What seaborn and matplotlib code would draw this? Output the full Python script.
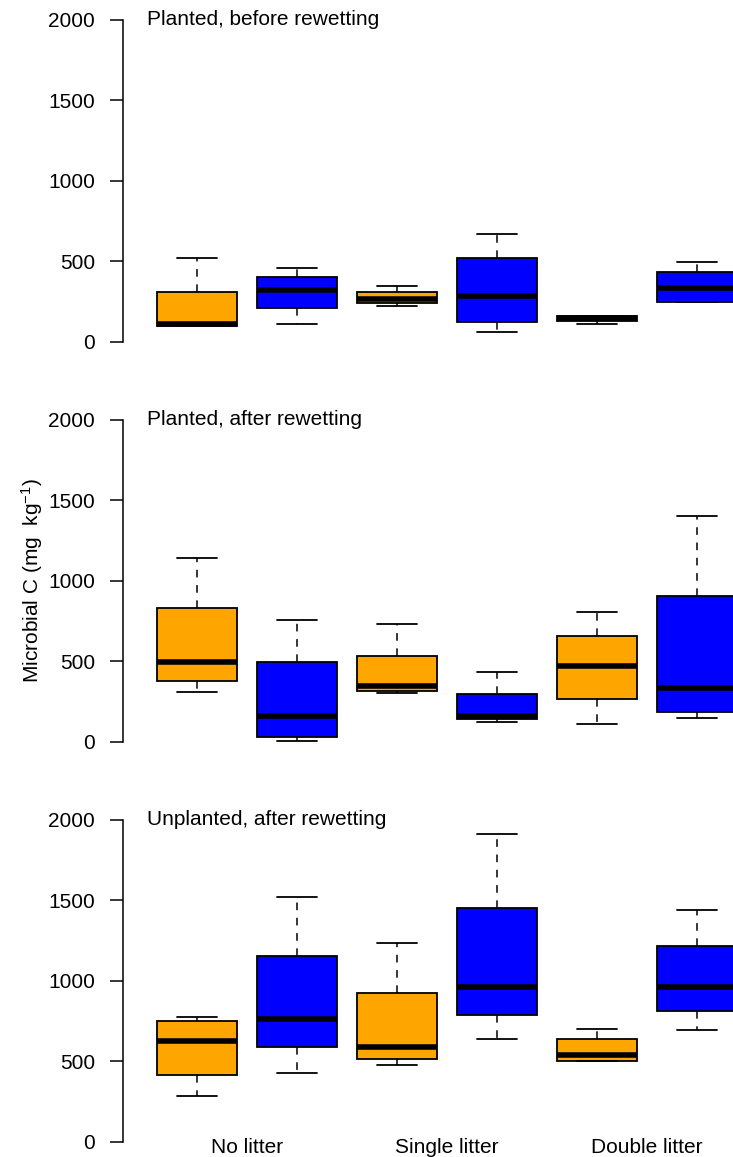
import matplotlib
matplotlib.use("Agg")
import matplotlib.pyplot as plt
import seaborn as sns
import pandas as pd

# ---- data (five-number summaries: min, q1, median, q3, max) ----
litter = ["No litter", "Single litter", "Double litter"]
groups = ["A", "B"]          # left (orange) and right (blue) box within each litter level
panel_titles = ["Planted, before rewetting",
                "Planted, after rewetting",
                "Unplanted, after rewetting"]

planted_before = [
    [98, 98, 112, 307, 522],     # No litter, A
    [110, 208, 321, 400, 460],   # No litter, B
    [220, 242, 265, 311, 346],   # Single litter, A
    [60, 120, 284, 520, 671],    # Single litter, B
    [110, 131, 147, 162, 162],   # Double litter, A
    [245, 245, 334, 435, 495],   # Double litter, B
]
planted_after = [
    [307, 379, 494, 831, 1142],
    [2, 31, 160, 494, 757],
    [305, 315, 345, 533, 730],
    [120, 141, 160, 297, 431],
    [108, 268, 469, 655, 804],
    [145, 185, 332, 904, 1403],
]
unplanted_after = [
    [282, 415, 628, 752, 777],
    [429, 591, 765, 1154, 1523],
    [477, 516, 591, 926, 1237],
    [640, 790, 964, 1451, 1911],
    [504, 504, 541, 640, 701],
    [693, 815, 964, 1215, 1439],
]
y_ticks = [0, 500, 1000, 1500, 2000]
colors = {"A": "#FFA500", "B": "#0000FF"}

# ---- build long-form table ----
def to_frame(summaries):
    rows = []
    k = 0
    for lit in litter:
        for g in groups:
            for v in summaries[k]:
                rows.append({"litter": lit, "group": g, "value": v})
            k += 1
    return pd.DataFrame(rows)

sns.set_style("white")
plt.rcParams["font.family"] = ["Liberation Sans", "DejaVu Sans"]
plt.rcParams["mathtext.fontset"] = "custom"
plt.rcParams["mathtext.rm"] = "Liberation Sans"
plt.rcParams["mathtext.it"] = "Liberation Sans:italic"
for key in ["text.color", "axes.labelcolor", "xtick.color", "ytick.color"]:
    plt.rcParams[key] = "black"

W, H = 733, 1157
fig = plt.figure(figsize=(W / 100, H / 100), dpi=100)

left_px, right_px = 123, 771
panel_px = [(7.1, 354.6), (407.1, 754.6), (807.1, 1154.6)]
FS = 15

for i, (summ, title) in enumerate(zip([planted_before, planted_after, unplanted_after], panel_titles)):
    top, bot = panel_px[i]
    ax = fig.add_axes([left_px / W, 1 - bot / H, (right_px - left_px) / W, (bot - top) / H])
    df = to_frame(summ)
    sns.boxplot(data=df, x="litter", y="value", hue="group", order=litter, hue_order=groups,
                palette=colors, saturation=1, width=1.0, gap=0.2, whis=(0, 100),
                linecolor="black", linewidth=1.3, legend=False, ax=ax,
                whiskerprops={"linestyle": (0, (5, 5)), "linewidth": 1.1},
                capprops={"linewidth": 1.3},
                medianprops={"linewidth": 4.0, "color": "black", "solid_capstyle": "butt"},
                showfliers=False)
    ax.set_xlim(-0.62, 2.62)
    ax.set_ylim(-80, 2080)
    for s in ["top", "right", "bottom"]:
        ax.spines[s].set_visible(False)
    ax.spines["left"].set_bounds(0, 2000)
    ax.spines["left"].set_linewidth(1.1)
    ax.spines["left"].set_color("black")
    ax.set_yticks(y_ticks)
    ax.set_yticklabels([str(t) for t in y_ticks])
    ax.tick_params(axis="y", direction="out", length=9.4, width=1.1, color="black",
                   labelcolor="black", pad=10.8, labelsize=FS, left=True)
    ax.set_xlabel("")
    ax.set_ylabel("")
    if i == 2:
        ax.set_xticks(range(len(litter)))
        ax.set_xticklabels(litter)
        ax.tick_params(axis="x", length=0, pad=-12.3, labelsize=FS, labelcolor="black")
    else:
        ax.set_xticks([])
    ax.text(-0.5, 2000, title, ha="left", va="center", fontsize=FS, color="black")
    if i == 1:
        ax.set_ylabel(r"Microbial C (mg  kg$^{-1}$)", fontsize=FS, color="black")
        ax.yaxis.set_label_coords(-0.12, 0.5)

fig.savefig("out.png", dpi=100)
